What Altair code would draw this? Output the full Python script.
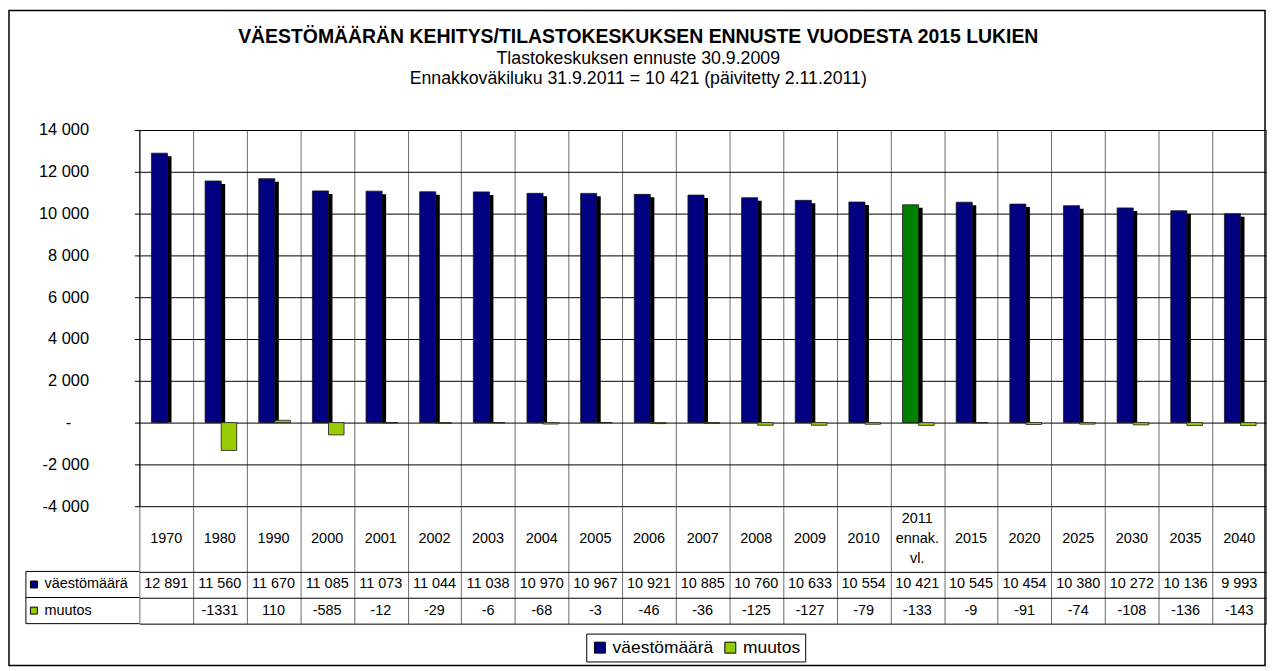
import altair as alt
import pandas as pd

FONT = "Liberation Sans"

categories = ["1970", "1980", "1990", "2000", "2001", "2002", "2003", "2004", "2005",
              "2006", "2007", "2008", "2009", "2010", "2011 ennak. vl.", "2015", "2020",
              "2025", "2030", "2035", "2040"]
vaesto = [12891, 11560, 11670, 11085, 11073, 11044, 11038, 10970, 10967, 10921, 10885,
          10760, 10633, 10554, 10421, 10545, 10454, 10380, 10272, 10136, 9993]
muutos = [None, -1331, 110, -585, -12, -29, -6, -68, -3, -46, -36, -125, -127, -79, -133,
          -9, -91, -74, -108, -136, -143]
series_names = ["väestömäärä", "muutos"]
special_category = "2011 ennak. vl."
color_domain = ["väestömäärä", "muutos", "ennakko"]
color_range = ["#000080", "#99CC00", "#008000"]
y_ticks = list(range(-4000, 14001, 2000))

title_text = "VÄESTÖMÄÄRÄN KEHITYS/TILASTOKESKUKSEN ENNUSTE VUODESTA 2015 LUKIEN"
subtitle_lines = ["Tlastokeskuksen ennuste 30.9.2009",
                  "Ennakkoväkiluku 31.9.2011 = 10 421 (päivitetty 2.11.2011)"]

n = len(categories)

# long table for bars
rows = []
for i, c in enumerate(categories):
    rows.append({"idx": i, "cat": c, "series": "väestömäärä", "value": vaesto[i],
                 "key": "ennakko" if c == special_category else "väestömäärä"})
    if muutos[i] is not None:
        rows.append({"idx": i, "cat": c, "series": "muutos", "value": muutos[i], "key": "muutos"})
bars_df = pd.DataFrame(rows)

table_df = pd.DataFrame({"idx": list(range(n)), "cat": categories, "pop": vaesto,
                         "chg": [m if m is not None else float("nan") for m in muutos]})
legend_df = pd.DataFrame({"label": series_names, "row": [0, 1]})
lines_df = pd.DataFrame({"yl": [2.5, 3.5, 4.5]})
one_df = pd.DataFrame({"f": [0]})

color_scale = alt.Scale(domain=color_domain, range=color_range)
x_scale = alt.Scale(domain=[0, n], nice=False, zero=False)
x_axis = alt.Axis(values=list(range(n + 1)), grid=True, gridColor="#6b6b6b", gridWidth=1,
                  labels=False, ticks=False, domain=False, title=None)

# ---------------- top chart ----------------
base = alt.Chart(bars_df).transform_calculate(
    x0="datum.idx + (datum.series == 'väestömäärä' ? 0.225 : 0.525)",
    x1="datum.idx + (datum.series == 'väestömäärä' ? 0.525 : 0.815)",
)
y_enc = alt.Y("value:Q", scale=alt.Scale(domain=[-4000, 14000], nice=False),
              axis=alt.Axis(values=y_ticks, grid=True, gridColor="black", gridWidth=1,
                            tickColor="black", tickSize=5, domainColor="black",
                            labelFont=FONT, labelFontSize=16.5, labelColor="black",
                            labelPadding={"condition": {"test": "datum.value === 0", "value": 64},
                                          "value": 46},
                            title=None,
                            labelExpr="datum.value == 0 ? '-' : (datum.value < 0 ? '-' : '') + replace(format(abs(datum.value), ','), ',', ' ')"))
x_enc = alt.X("x0:Q", scale=x_scale, axis=x_axis)

shadow = base.transform_filter("datum.series == 'väestömäärä'").mark_bar(
    color="black", xOffset=4, x2Offset=4, yOffset=3
).encode(x=x_enc, x2="x1:Q", y=y_enc, y2=alt.datum(0))

bars = base.mark_bar(stroke="#1a1a1a", strokeWidth=0.8).encode(
    x=x_enc, x2="x1:Q", y=y_enc, y2=alt.datum(0),
    color=alt.Color("key:N", scale=color_scale, legend=None),
)

top = alt.layer(shadow, bars).properties(
    width=1132, height=378,
    title=alt.Title(text=title_text, subtitle=subtitle_lines, anchor="middle", frame="bounds",
                    font=FONT, fontSize=19.5, fontWeight="bold", color="black",
                    subtitleFont=FONT, subtitleFontSize=17.8, subtitleColor="black",
                    subtitlePadding=2, subtitleLineHeight=21, offset=33, dx=-14),
)

# ---------------- table chart ----------------
y_scale_t = alt.Scale(domain=[0, 4.5], reverse=True, nice=False, zero=False)
y_axis_t = alt.Axis(values=[2.5, 3.5, 4.5], grid=True, gridColor="black", gridWidth=1,
                    labels=False, ticks=False, domain=False, title=None)
XT = lambda f: alt.X(f, scale=x_scale, axis=x_axis)
YT = lambda f: alt.Y(f, scale=y_scale_t, axis=y_axis_t)
tbase = alt.Chart(table_df)

header = tbase.transform_calculate(
    xc="datum.idx + 0.5",
    yc="1.25 - (length(split(datum.cat, ' ')) - 1) * 0.3815"
).mark_text(
    lineBreak=" ", fontSize=14.5, lineHeight=20, font=FONT, color="black", baseline="middle"
).encode(x=XT("xc:Q"), y=YT("yc:Q"), text="cat:N")

pop_row = tbase.transform_calculate(
    xc="datum.idx + 0.5", yc="3",
    txt="replace(format(datum.pop, ','), ',', ' ')"
).mark_text(fontSize=14.5, font=FONT, color="black").encode(
    x=XT("xc:Q"), y=YT("yc:Q"), text="txt:N",
)
chg_row = tbase.transform_filter("isValid(datum.chg) && isFinite(datum.chg)").transform_calculate(
    xc="datum.idx + 0.5", yc="4",
    txt="(datum.chg < 0 ? '-' : '') + abs(datum.chg)"
).mark_text(fontSize=14.5, font=FONT, color="black").encode(
    x=XT("xc:Q"), y=YT("yc:Q"), text="txt:N",
)

squares = alt.Chart(legend_df).transform_calculate(sx="-1.966", yc="datum.row + 3").mark_square(
    size=49, stroke="black", strokeWidth=1, opacity=1
).encode(
    x=XT("sx:Q"), y=YT("yc:Q"),
    color=alt.Color("label:N", scale=color_scale,
                    legend=alt.Legend(orient="none", legendX=449, legendY=128,
                                      direction="horizontal", title=None,
                                      values=series_names,
                                      strokeColor="black", fillColor="white", padding=5,
                                      labelFont=FONT, labelFontSize=17.5, labelColor="black",
                                      symbolType="square", symbolSize=121,
                                      symbolStrokeColor="black", symbolStrokeWidth=1,
                                      columnPadding=8, labelOffset=4)),
)
row_labels = alt.Chart(legend_df).transform_calculate(tx="-1.77", yc="datum.row + 3").mark_text(
    align="left", fontSize=14.5, font=FONT, color="black"
).encode(x=XT("tx:Q"), y=YT("yc:Q"), text="label:N")

left_lines = alt.Chart(lines_df).transform_calculate(xa="-2.115", xb="0").mark_rule(
    color="black", strokeWidth=1
).encode(x=XT("xa:Q"), x2="xb:Q", y=YT("yl:Q"))

left_edge = alt.Chart(one_df).transform_calculate(xa="-2.115", ya="2.5", yb="4.5").mark_rule(
    color="black", strokeWidth=1
).encode(x=XT("xa:Q"), y=YT("ya:Q"), y2="yb:Q")

frame = alt.Chart(one_df).mark_rect(fillOpacity=0, stroke="black", strokeWidth=1.5).encode(
    x=alt.value(-131), x2=alt.value(1131), y=alt.value(-498), y2=alt.value(160)
)

table = alt.layer(header, pop_row, chg_row, left_lines, left_edge, squares, row_labels, frame).properties(
    width=1132, height=118
)

chart = alt.vconcat(top, table, spacing=0, bounds="flush").resolve_scale(
    color="independent"
).properties(
    padding={"left": 0, "top": 0, "right": 2, "bottom": 2}, background="white"
).configure_view(stroke=None)

chart.save("out.html", embed_options={"renderer": "svg", "actions": False})
